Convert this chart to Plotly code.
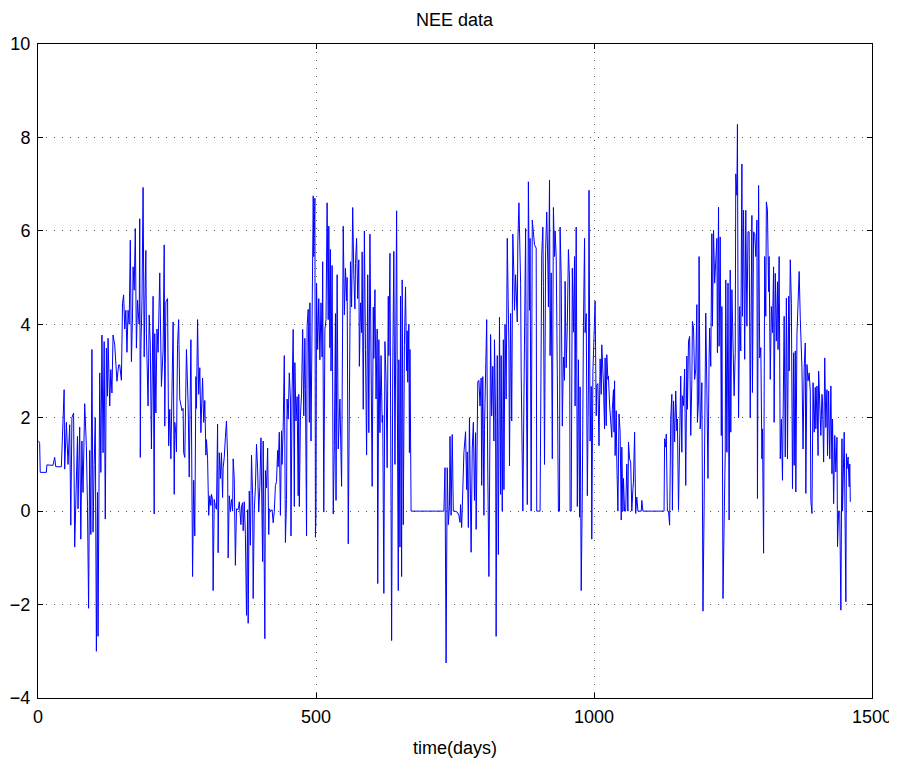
import plotly.graph_objects as go

# (day, NEE) pairs, one list per year
year1 = [(1,1.5),(3,1.45),(4,0.83),(15,0.83),(16,0.99),(27,0.98),(30,1.15),(32,0.95),(42,0.95),(43,1.25),
 (47,2.6),(48,0.9),(51,1.9),(54,1.0),(57,1.85),(59,-0.3),(61,2.0),(64,2.1),(66,-0.77),(71,1.6),
 (72,0.05),(75,1.8),(77,-0.6),(79,1.5),(81,0.4),(84,2.3),(87,1.4),(89,0.1),(91,-2.08),(93,1.3),
 (95,-0.5),(97,3.46),(99,-0.45),(101,1.0),(103,2.0),(105,-3.0),(107,0.4),(108,-2.68),(110,0.23),(111,2.96),
 (113,0.83),(115,3.77),(117,1.25),(119,3.63),(121,-0.17),(123,3.49),(125,2.46),(126,3.7),(129,2.25),(131,3.03),
 (133,2.53),(135,3.77),(138,3.56),(140,3.24),(142,2.78),(145,3.13),(147,3.13),(150,2.8),(152,4.45),(154,4.63),
 (156,3.9),(158,4.3),(160,3.4),(162,4.3),(164,4.0),(166,5.8),(168,3.2),(170,4.2),(171,5.23),(173,4.73),
 (175,6.05),(177,3.49),(179,4.52),(180,4.3),(182,4.0),(183,6.26),(184,1.15),(185,3.46),(187,4.5),(189,6.93),
 (191,3.3),(192,4.3),(194,5.58),(195,3.8),(198,2.25),(200,4.2),(202,3.56),(204,1.33),(206,3.95),(207,4.6),
 (209,-0.06),(210,3.8),(212,2.1),(214,3.9),(216,3.4),(219,5.1),(221,3.45),(222,2.67),(225,3.45),(227,5.7),
 (228,1.82),(230,4.48),(233,4.55),(235,1.4),(237,2.18),(239,1.12),(241,2.6),(243,4.05),(245,0.36),(246,1.9),
 (248,1.65),(249,1.27),(251,3.57),(253,4.1),(255,2.4),(259,2.15),(261,2.2),(262,1.25),(264,1.15),(267,3.46),
 (270,2.3),(272,0.73),(275,3.67),(278,-1.4),(280,0.66),(282,-0.53),(284,2.88),(285,2.2),(287,4.1),(289,2.5),
 (291,3.07),(293,1.68),(294,2.1),(296,2.85),(298,1.9),(300,2.37),(302,1.2),(303,1.53),(305,1.12),(307,-0.09),
 (309,0.33),(311,0.12),(312,0.36),(314,0.25),(315,-1.7),(317,0.25),(319,0.1),(321,0.04),(323,1.86),(324,-0.89),
 (326,1.25),(328,0.7),(330,1.25),(332,0.29),(333,0.93),(335,1.15),(337,1.57),(339,1.93),(341,1.15),(342,-1.0),
 (344,0.33),(346,0.0),(348,0.25),(350,0.0),(351,1.12),(353,0.7),(355,-1.16),(357,0.05),(360,0.03),(362,0.2),
 (365,-0.29)]

year2 = [(366,0.1),(368,0.18),(369,-0.42),(371,0.2),(373,-0.5),(375,-2.23),(377,0.03),(378,-2.4),(380,0.43),(382,-0.73),
 (384,1.2),(386,0.33),(387,-1.87),(389,0.03),(391,0.5),(393,1.43),(395,0.9),(397,-0.02),(399,0.53),(401,1.57),
 (402,-0.02),(404,-1.08),(405,1.5),(408,-2.73),(409,0.87),(411,0.5),(413,1.35),(415,-0.5),(416,0.05),(418,0.0),
 (421,0.03),(423,-0.25),(425,0.0),(427,0.55),(429,0.63),(431,1.3),(432,0.95),(434,1.69),(436,-0.09),(438,1.72),
 (439,1.0),(441,1.8),(443,3.33),(445,-0.67),(447,0.25),(448,2.4),(450,1.97),(452,2.96),(454,2.4),(455,-0.53),
 (457,2.53),(459,3.89),(461,0.1),(462,3.18),(464,1.93),(466,2.45),(468,0.33),(469,2.5),(470,0.1),(472,2.04),
 (474,2.5),(476,3.89),(478,2.04),(480,3.7),(481,2.6),(483,-0.53),(484,3.96),(486,4.32),(488,1.9),(489,4.46),
 (491,1.5),(493,5.38),(495,6.75),(496,5.45),(498,6.7),(499,-0.56),(500,-0.02),(501,4.88),(503,3.46),(505,4.55),
 (507,3.24),(509,4.46),(511,3.3),(512,5.34),(514,-0.02),(516,3.89),(518,4.1),(520,6.6),(522,4.1),(523,6.1),
 (525,3.5),(526,5.6),(527,3.0),(529,5.26),(531,-0.06),(533,1.4),(535,4.23),(536,0.23),(538,5.06),(540,1.33),
 (543,2.4),(546,0.53),(547,2.0),(549,6.1),(551,4.2),(553,5.2),(555,4.5),(556,5.0),(558,-0.7),(560,1.82),
 (562,5.34),(564,4.37),(566,6.5),(568,5.06),(570,4.33),(571,5.3),(573,5.84),(575,4.55),(577,5.38),(578,3.1),
 (580,4.46),(582,3.82),(583,5.55),(585,2.18),(587,6.0),(589,3.46),(591,1.2),(593,5.06),(595,1.68),(597,5.93),
 (599,3.56),(601,0.53),(603,4.37),(604,3.27),(606,4.74),(608,2.4),(610,3.9),(611,-1.55),(613,3.67),(615,1.68),
 (617,3.33),(619,1.9),(620,2.05),(622,-1.76),(624,3.63),(626,2.8),(628,0.93),(630,4.6),(631,3.33),(633,5.52),
 (634,2.4),(636,-2.77),(638,2.96),(640,5.56),(642,1.0),(643,3.6),(645,6.43),(646,3.1),(648,-1.7),(649,3.24),
 (651,-0.77),(652,4.6),(654,-1.4),(655,4.95),(657,-0.29),(659,3.56),(661,4.8),(663,3.0),(664,3.86),(665,2.76),
 (667,4.0),(668,1.25),(669,3.46),(671,0.0),(700,0.0),(730,0.0)]

year3 = [(732,0.93),(734,-3.25),(736,0.93),(738,-0.29),(740,0.1),(741,1.6),(743,-0.09),(745,1.64),(747,0.0),(750,0.0),
 (754,-0.02),(757,-0.09),(759,-0.24),(760,0.14),(762,-0.35),(764,0.36),(766,1.25),(769,1.7),(771,0.46),(772,1.27),
 (774,-0.35),(776,2.0),(778,0.29),(779,-0.88),(781,1.33),(783,1.9),(785,0.23),(787,1.68),(788,-0.39),(790,2.3),
 (791,2.77),(793,2.8),(795,2.25),(797,2.85),(798,0.55),(800,2.88),(802,-0.09),(803,1.75),(805,3.27),(807,4.1),
 (809,0.8),(811,-1.4),(812,0.18),(814,3.78),(816,2.04),(818,3.1),(820,1.5),(821,3.67),(823,2.0),(824,-2.68),
 (826,3.33),(828,-0.93),(830,4.15),(832,0.36),(833,3.33),(835,0.0),(837,3.67),(838,0.46),(840,4.0),(842,2.4),
 (844,5.84),(847,3.46),(848,0.97),(850,4.23),(852,1.93),(854,5.93),(856,5.0),(857,4.3),(859,5.06),(862,4.05),
 (863,5.77),(865,6.6),(868,4.88),(869,3.0),(872,0.0),(874,3.14),(875,4.85),(877,6.05),(878,3.56),(880,0.14),
 (882,7.05),(884,4.3),(885,5.84),(887,0.0),(889,6.23),(891,5.9),(893,5.7),(896,5.63),(897,0.0),(901,0.0),
 (903,0.0),(906,5.48),(908,6.08),(909,4.81),(911,1.0),(913,5.6),(915,6.4),(917,5.27),(918,4.37),(920,7.09),
 (921,3.33),(923,5.1),(925,1.12),(927,6.5),(929,5.45),(930,6.0),(932,5.45),(934,2.96),(936,0.0),(938,0.0),
 (939,6.08),(941,5.03),(943,1.82),(945,3.3),(947,2.8),(948,4.92),(950,3.07),(952,3.96),(954,5.6),(956,4.95),
 (957,0.0),(959,0.0),(961,5.2),(963,3.83),(965,5.45),(966,2.25),(968,6.08),(970,0.1),(972,3.24),(974,-0.13),
 (975,2.66),(977,-1.7),(979,0.4),(981,3.97),(983,5.84),(984,3.82),(986,4.23),(988,0.33),(990,2.7),(991,6.87),
 (993,1.5),(995,2.67),(996,-0.6),(998,2.96),(1000,3.96),(1002,4.5),(1004,2.04),(1005,2.7),(1007,2.73),(1009,1.4),
 (1011,3.26),(1013,2.5),(1014,3.56),(1017,2.72),(1019,1.76),(1020,3.28),(1022,1.83),(1023,3.35),(1025,2.82),(1026,2.89),
 (1028,2.29),(1030,1.97),(1032,1.58),(1033,2.18),(1035,2.6),(1036,1.69),(1037,2.79),(1038,1.19),(1040,2.15),(1041,1.05),
 (1043,0.0),(1045,2.08),(1047,1.69),(1049,-0.19),(1050,1.37),(1052,0.0),(1053,0.7),(1055,0.0),(1057,0.0),(1059,1.01),
 (1061,0.0),(1062,1.48),(1064,1.12),(1066,1.05),(1068,0.0),(1070,0.48),(1071,0.62),(1073,1.69),(1075,-0.05),(1077,0.3),
 (1079,0.0),(1085,0.0),(1086,0.23),(1088,0.0),(1095,0.0)]

year4 = [(1126,0.0),(1127,1.55),(1129,1.37),(1130,1.65),(1132,0.0),(1134,0.0),(1136,-0.3),(1138,1.97),(1140,2.5),(1141,0.02),
 (1143,2.36),(1145,1.48),(1147,2.57),(1149,1.72),(1150,1.97),(1152,0.02),(1154,1.76),(1156,2.89),(1158,1.26),(1159,2.47),
 (1161,2.26),(1163,3.04),(1165,0.55),(1167,3.32),(1168,2.18),(1170,3.64),(1172,3.74),(1174,1.62),(1176,2.82),(1177,4.06),
 (1179,3.92),(1181,2.82),(1183,3.04),(1185,4.42),(1186,1.9),(1188,2.36),(1189,5.45),(1191,1.76),(1192,1.97),(1194,2.75),
 (1196,-2.14),(1198,0.02),(1200,3.18),(1201,4.24),(1203,2.6),(1205,0.7),(1207,3.25),(1208,3.92),(1210,3.1),(1212,5.94),
 (1213,3.96),(1215,6.01),(1217,4.88),(1219,5.52),(1221,5.84),(1222,3.39),(1224,6.51),(1225,3.53),(1227,5.87),(1229,1.62),
 (1230,4.38),(1232,-1.87),(1234,-0.26),(1236,1.26),(1237,4.95),(1239,1.26),(1241,4.88),(1243,-0.19),(1245,5.16),(1246,1.69),
 (1248,4.74),(1250,3.25),(1252,2.47),(1254,3.39),(1255,7.22),(1257,6.76),(1258,8.28),(1259,4.38),(1260,2.0),(1262,4.38),
 (1264,3.43),(1266,7.43),(1267,4.17),(1269,6.44),(1271,3.25),(1273,6.44),(1275,3.96),(1277,5.98),(1279,5.98),(1281,2.0),
 (1282,4.52),(1284,6.33),(1285,2.54),(1287,5.98),(1289,5.94),(1291,5.45),(1293,6.23),(1294,0.27),(1296,6.97),(1298,3.28),
 (1300,3.5),(1302,1.12),(1303,1.76),(1305,-0.9),(1307,5.45),(1309,4.17),(1310,6.62),(1312,6.44),(1314,4.7),(1315,5.45),
 (1317,2.82),(1319,4.38),(1321,3.82),(1323,5.23),(1324,1.9),(1326,5.09),(1328,3.64),(1330,4.91),(1331,3.46),(1333,5.45),
 (1335,1.12),(1337,1.97),(1339,0.66),(1341,2.6),(1342,4.17),(1344,1.16),(1346,4.56),(1348,1.12),(1350,4.6),(1351,3.0),
 (1353,5.38),(1355,4.45),(1357,0.48),(1359,3.39),(1360,0.98),(1362,3.43),(1363,0.41),(1365,3.78),(1367,4.35),(1369,5.13),
 (1371,4.13),(1372,3.67),(1374,3.07),(1376,1.33),(1378,3.07),(1380,3.6),(1381,0.38),(1383,3.14),(1385,2.79),(1387,2.96),
 (1389,2.57),(1390,0.23),(1392,-0.05),(1394,2.75),(1396,1.69),(1398,2.65),(1399,1.76),(1401,2.68),(1403,1.19),(1404,3.0),
 (1406,2.04),(1408,1.62),(1410,2.5),(1411,2.36),(1413,1.05),(1415,3.28),(1417,1.79),(1419,2.6),(1420,1.19),(1422,2.57),
 (1424,1.12),(1426,2.68),(1428,0.8),(1429,1.97),(1431,0.16),(1433,1.62),(1435,0.84),(1437,1.58),(1438,-0.76),(1440,0.0),
 (1442,0.0),(1444,-2.12),(1446,1.55),(1447,0.0),(1450,1.69),(1453,-1.94),(1454,1.23),(1455,0.91),(1457,1.16),(1459,0.52),
 (1460,1.01),(1461,0.2)]

x_ticks = [0, 500, 1000, 1500]
y_ticks = [-4, -2, 0, 2, 4, 6, 8, 10]
title_text = "NEE data"
x_label = "time(days)"

days = [d for d, _ in year1 + year2 + year3 + year4]
nee = [v for _, v in year1 + year2 + year3 + year4]

FONT = "Liberation Sans, Arial, Helvetica, sans-serif"

fig = go.Figure()
fig.add_trace(go.Scatter(x=days, y=nee, mode="lines",
                         line=dict(color="#0000ff", width=1), showlegend=False,
                         hoverinfo="skip"))

axis_common = dict(
    showline=True, linecolor="black", linewidth=1, mirror="ticks",
    ticks="inside", ticklen=5, tickwidth=1, tickcolor="black",
    showgrid=True, gridcolor="#555555", gridwidth=1, griddash="1px,7px",
    zeroline=False, automargin=False,
    tickfont=dict(family=FONT, size=18, color="black"),
)

fig.update_xaxes(range=[0, 1500], tickvals=x_ticks, ticktext=[str(t) for t in x_ticks],
                 ticklabelstandoff=2, **axis_common)
fig.update_yaxes(range=[-4, 10], tickvals=y_ticks,
                 ticktext=[("\u2212" + str(-t)) if t < 0 else str(t) for t in y_ticks],
                 ticklabelstandoff=3, **axis_common)

# The page body has an 8px default margin; the figure is sized/offset to compensate.
fig.update_layout(
    width=889, height=761,
    margin=dict(l=30, r=25, t=36, b=71),
    paper_bgcolor="white", plot_bgcolor="white",
    annotations=[
        dict(text=title_text, xref="paper", yref="paper", x=0.5, y=1 + 24 / 654,
             xanchor="center", yanchor="middle", showarrow=False,
             font=dict(family=FONT, size=18, color="black")),
        dict(text=x_label, xref="paper", yref="paper", x=0.5, y=-50 / 654,
             xanchor="center", yanchor="middle", showarrow=False,
             font=dict(family=FONT, size=18, color="black")),
    ],
)

fig.write_html("out.html")
